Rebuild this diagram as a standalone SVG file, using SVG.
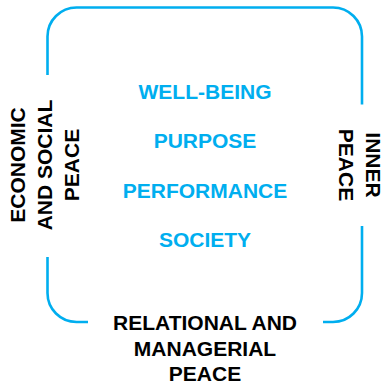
<svg xmlns="http://www.w3.org/2000/svg" width="384" height="383" viewBox="0 0 384 383">
<style>
.frame{fill:none;stroke:#00AEEF;stroke-width:2.6;stroke-linecap:butt}
.t{font-family:"Liberation Sans",Arial,Helvetica,sans-serif;font-weight:bold;font-size:21px;text-anchor:middle}
.blue{fill:#00AEEF}
.black{fill:#000000}
</style>
<rect width="384" height="383" fill="#ffffff"/>
<g id="connectors">
<path class="frame" d="M47.5,75 V36.5 A29,29 0 0 1 76.5,7.5 H333 A29,29 0 0 1 362,36.5 V104.5"/>
<path class="frame" d="M362,226 V293 A29,29 0 0 1 333,322 H323"/>
<path class="frame" d="M88,322 H76.5 A29,29 0 0 1 47.5,293 V257"/>
</g>
<g id="center">
<text class="t blue" x="205" y="98.5">WELL-BEING</text>
<text class="t blue" x="205" y="148">PURPOSE</text>
<text class="t blue" x="205" y="197.5">PERFORMANCE</text>
<text class="t blue" x="205" y="246.5">SOCIETY</text>
</g>
<g id="left">
<text class="t black" transform="translate(24.5,165) rotate(-90)">ECONOMIC</text>
<text class="t black" transform="translate(51.5,165) rotate(-90)">AND SOCIAL</text>
<text class="t black" transform="translate(78.5,165) rotate(-90)">PEACE</text>
</g>
<g id="right">
<text class="t black" transform="translate(365.5,165) rotate(90)">INNER</text>
<text class="t black" transform="translate(338.5,165) rotate(90)">PEACE</text>
</g>
<g id="bottom">
<text class="t black" x="205" y="330">RELATIONAL AND</text>
<text class="t black" x="205" y="356">MANAGERIAL</text>
<text class="t black" x="205" y="381">PEACE</text>
</g>
</svg>
